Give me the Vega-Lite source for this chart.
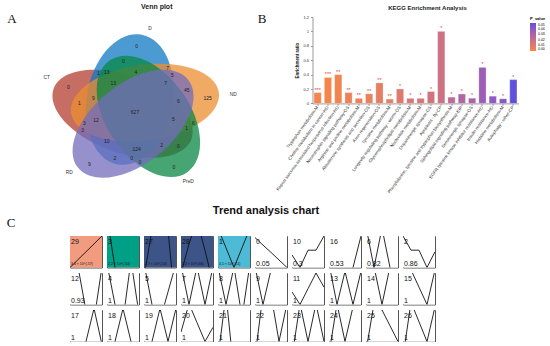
{
  "$schema": "https://vega.github.io/schema/vega-lite/v6.json",
  "background": "white",
  "padding": {"left": 0, "top": 2, "right": 0, "bottom": 0},
  "config": {
    "font": "Liberation Sans",
    "view": {"stroke": "#555", "strokeWidth": 1},
    "title": {"font": "Liberation Sans"},
    "header": {"labels": false, "title": null, "labelExpr": "''", "labelPadding": 0}
  },
  "datasets": {
    "ellipses": [
      {"set": "CT", "u": 0.428, "v": 0.449},
      {"set": "D", "u": 0.469, "v": 0.543},
      {"set": "ND", "u": 0.558, "v": 0.523},
      {"set": "PreD", "u": 0.578, "v": 0.432},
      {"set": "RD", "u": 0.489, "v": 0.383}
    ],
    "vnum": [
      {"n": "0", "u": 0.5099, "v": 0.898},
      {"n": "0", "u": 0.432, "v": 0.7987},
      {"n": "1", "u": 0.2866, "v": 0.7172},
      {"n": "13", "u": 0.3355, "v": 0.7258},
      {"n": "4", "u": 0.5058, "v": 0.7258},
      {"n": "7", "u": 0.6901, "v": 0.7503},
      {"n": "5", "u": 0.7169, "v": 0.706},
      {"n": "13", "u": 0.3738, "v": 0.655},
      {"n": "7", "u": 0.6785, "v": 0.655},
      {"n": "45", "u": 0.8006, "v": 0.6046},
      {"n": "125", "u": 0.9227, "v": 0.5556},
      {"n": "0", "u": 0.1122, "v": 0.6285},
      {"n": "1", "u": 0.1762, "v": 0.5225},
      {"n": "9", "u": 0.2576, "v": 0.5556},
      {"n": "6", "u": 0.7517, "v": 0.5338},
      {"n": "627", "u": 0.5, "v": 0.4609},
      {"n": "12", "u": 0.2733, "v": 0.4079},
      {"n": "5", "u": 0.7227, "v": 0.4126},
      {"n": "3", "u": 0.2052, "v": 0.3861},
      {"n": "3", "u": 0.1959, "v": 0.3397},
      {"n": "6", "u": 0.839, "v": 0.3901},
      {"n": "1", "u": 0.8006, "v": 0.353},
      {"n": "10", "u": 0.3355, "v": 0.2689},
      {"n": "124", "u": 0.5099, "v": 0.2179},
      {"n": "2", "u": 0.6552, "v": 0.2424},
      {"n": "0", "u": 0.7517, "v": 0.2358},
      {"n": "2", "u": 0.3837, "v": 0.1583},
      {"n": "0", "u": 0.4808, "v": 0.1583},
      {"n": "0", "u": 0.5291, "v": 0.1318},
      {"n": "9", "u": 0.2343, "v": 0.1185},
      {"n": "0", "u": 0.7267, "v": 0.0987}
    ],
    "vname": [
      {"label": "CT", "u": -0.0134, "v": 0.6881},
      {"label": "D", "u": 0.5872, "v": 1.0086},
      {"label": "ND", "u": 1.0715, "v": 0.5715},
      {"label": "RD", "u": 0.118, "v": 0.0589},
      {"label": "PreD", "u": 0.8099, "v": -0.0026}
    ],
    "kegg": [
      {"pathway": "Tryptophan metabolism-M", "ratio": 0.15, "p": 0.0004, "sig": "***"},
      {"pathway": "Choline metabolism in cancer-HD", "ratio": 0.36, "p": 0.0005, "sig": "***"},
      {"pathway": "Kaposi sarcoma-associated herpesvirus infection-HD", "ratio": 0.4, "p": 0.002, "sig": "**"},
      {"pathway": "Neurotrophin signaling pathway-OS", "ratio": 0.15, "p": 0.004, "sig": "**"},
      {"pathway": "Arginine and proline metabolism-M", "ratio": 0.07, "p": 0.005, "sig": "**"},
      {"pathway": "Aldosterone synthesis and secretion-OS", "ratio": 0.133, "p": 0.005, "sig": "**"},
      {"pathway": "Axon regeneration-OS", "ratio": 0.285, "p": 0.007, "sig": "**"},
      {"pathway": "Tyrosine metabolism-M", "ratio": 0.06, "p": 0.007, "sig": "**"},
      {"pathway": "Longevity regulating pathway - worm-OS", "ratio": 0.2, "p": 0.011, "sig": "*"},
      {"pathway": "Glycerophospholipid metabolism-M", "ratio": 0.07, "p": 0.013, "sig": "*"},
      {"pathway": "Nucleotide metabolism-M", "ratio": 0.07, "p": 0.014, "sig": "*"},
      {"pathway": "Dopaminergic synapse-OS", "ratio": 0.165, "p": 0.016, "sig": "*"},
      {"pathway": "Apoptosis - fly-CP", "ratio": 1.0, "p": 0.018, "sig": "*"},
      {"pathway": "Phenylalanine, tyrosine and tryptophan biosynthesis-M", "ratio": 0.087, "p": 0.024, "sig": "*"},
      {"pathway": "Sphingolipid signaling pathway-EIP", "ratio": 0.13, "p": 0.028, "sig": "*"},
      {"pathway": "Serotonergic synapse-OS", "ratio": 0.072, "p": 0.031, "sig": "*"},
      {"pathway": "EGFR tyrosine kinase inhibitor resistance-HD", "ratio": 0.5, "p": 0.035, "sig": "*"},
      {"pathway": "Insulin resistance-HD", "ratio": 0.1, "p": 0.039, "sig": "*"},
      {"pathway": "Histidine metabolism-M", "ratio": 0.064, "p": 0.041, "sig": "*"},
      {"pathway": "Autophagy - other-CP", "ratio": 0.33, "p": 0.049, "sig": "*"}
    ],
    "profiles": [
      {"p": "29", "r": 0, "k": 0, "c": "A", "pv": "3.4 × 10^(-57)"},
      {"p": "3", "r": 0, "k": 1, "c": "B", "pv": "2.2 × 10^(-50)"},
      {"p": "27", "r": 0, "k": 2, "c": "C", "pv": "2.7 × 10^(-10)"},
      {"p": "28", "r": 0, "k": 3, "c": "C", "pv": "2.2 × 10^(-66)"},
      {"p": "1", "r": 0, "k": 4, "c": "D", "pv": "4.1 × 10^(-11)"},
      {"p": "0", "r": 0, "k": 5, "c": "none", "pv": "0.05"},
      {"p": "10", "r": 0, "k": 6, "c": "none", "pv": "0.3"},
      {"p": "16", "r": 0, "k": 7, "c": "none", "pv": "0.53"},
      {"p": "6", "r": 0, "k": 8, "c": "none", "pv": "0.82"},
      {"p": "2", "r": 0, "k": 9, "c": "none", "pv": "0.86"},
      {"p": "12", "r": 1, "k": 0, "c": "none", "pv": "0.93"},
      {"p": "4", "r": 1, "k": 1, "c": "none", "pv": "1"},
      {"p": "5", "r": 1, "k": 2, "c": "none", "pv": "1"},
      {"p": "7", "r": 1, "k": 3, "c": "none", "pv": "1"},
      {"p": "8", "r": 1, "k": 4, "c": "none", "pv": "1"},
      {"p": "9", "r": 1, "k": 5, "c": "none", "pv": "1"},
      {"p": "11", "r": 1, "k": 6, "c": "none", "pv": "1"},
      {"p": "13", "r": 1, "k": 7, "c": "none", "pv": "1"},
      {"p": "14", "r": 1, "k": 8, "c": "none", "pv": "1"},
      {"p": "15", "r": 1, "k": 9, "c": "none", "pv": "1"},
      {"p": "17", "r": 2, "k": 0, "c": "none", "pv": "1"},
      {"p": "18", "r": 2, "k": 1, "c": "none", "pv": "1"},
      {"p": "19", "r": 2, "k": 2, "c": "none", "pv": "1"},
      {"p": "20", "r": 2, "k": 3, "c": "none", "pv": "1"},
      {"p": "21", "r": 2, "k": 4, "c": "none", "pv": "1"},
      {"p": "22", "r": 2, "k": 5, "c": "none", "pv": "1"},
      {"p": "23", "r": 2, "k": 6, "c": "none", "pv": "1"},
      {"p": "24", "r": 2, "k": 7, "c": "none", "pv": "1"},
      {"p": "25", "r": 2, "k": 8, "c": "none", "pv": "1"},
      {"p": "26", "r": 2, "k": 9, "c": "none", "pv": "1"}
    ],
    "trend": [
      {"p": "29", "t": 0, "v": 0}, {"p": "29", "t": 1, "v": 0.25}, {"p": "29", "t": 2, "v": 0.5}, {"p": "29", "t": 3, "v": 0.75}, {"p": "29", "t": 4, "v": 1},
      {"p": "3", "t": 0, "v": 1.6}, {"p": "3", "t": 1, "v": 0}, {"p": "3", "t": 2, "v": -1.5}, {"p": "3", "t": 3, "v": -3}, {"p": "3", "t": 4, "v": -4.5},
      {"p": "27", "t": 0, "v": -0.3}, {"p": "27", "t": 1, "v": 1.2}, {"p": "27", "t": 2, "v": 2}, {"p": "27", "t": 3, "v": 1.2}, {"p": "27", "t": 4, "v": -1.5},
      {"p": "28", "t": 0, "v": -0.2}, {"p": "28", "t": 1, "v": 0.75}, {"p": "28", "t": 2, "v": 1.5}, {"p": "28", "t": 3, "v": 0.54}, {"p": "28", "t": 4, "v": -0.5},
      {"p": "1", "t": 0, "v": 1.25}, {"p": "1", "t": 1, "v": 0.625}, {"p": "1", "t": 2, "v": 0}, {"p": "1", "t": 3, "v": 0.625}, {"p": "1", "t": 4, "v": 1.25},
      {"p": "0", "t": 0, "v": 0.95}, {"p": "0", "t": 1, "v": 0.71}, {"p": "0", "t": 2, "v": 0.48}, {"p": "0", "t": 3, "v": 0.24}, {"p": "0", "t": 4, "v": 0},
      {"p": "10", "t": 0, "v": 0.4}, {"p": "10", "t": 1, "v": 0}, {"p": "10", "t": 2, "v": 0.55}, {"p": "10", "t": 3, "v": 0.55}, {"p": "10", "t": 4, "v": 1},
      {"p": "16", "t": 0, "v": -3}, {"p": "16", "t": 1, "v": -2}, {"p": "16", "t": 2, "v": -1}, {"p": "16", "t": 3, "v": 0}, {"p": "16", "t": 4, "v": 1},
      {"p": "6", "t": 0, "v": 1.3}, {"p": "6", "t": 1, "v": 0}, {"p": "6", "t": 2, "v": 1.25}, {"p": "6", "t": 3, "v": 0}, {"p": "6", "t": 4, "v": -0.5},
      {"p": "2", "t": 0, "v": 1}, {"p": "2", "t": 1, "v": 0.55}, {"p": "2", "t": 2, "v": 0.55}, {"p": "2", "t": 3, "v": 0}, {"p": "2", "t": 4, "v": 0.5},
      {"p": "12", "t": 0, "v": 2}, {"p": "12", "t": 1, "v": 1.2}, {"p": "12", "t": 2, "v": -0.2}, {"p": "12", "t": 3, "v": -0.5}, {"p": "12", "t": 4, "v": 1.2},
      {"p": "4", "t": 0, "v": 1.3}, {"p": "4", "t": 1, "v": 0}, {"p": "4", "t": 2, "v": -0.5}, {"p": "4", "t": 3, "v": 1.4}, {"p": "4", "t": 4, "v": -0.3},
      {"p": "5", "t": 0, "v": 1.3}, {"p": "5", "t": 1, "v": 0}, {"p": "5", "t": 2, "v": -0.5}, {"p": "5", "t": 3, "v": 0.4}, {"p": "5", "t": 4, "v": 1.3},
      {"p": "7", "t": 0, "v": 1.25}, {"p": "7", "t": 1, "v": 0}, {"p": "7", "t": 2, "v": 1.2}, {"p": "7", "t": 3, "v": 0}, {"p": "7", "t": 4, "v": 1.2},
      {"p": "8", "t": 0, "v": 1.2}, {"p": "8", "t": 1, "v": 0}, {"p": "8", "t": 2, "v": 1.2}, {"p": "8", "t": 3, "v": -0.4}, {"p": "8", "t": 4, "v": 1.3},
      {"p": "9", "t": 0, "v": 1.2}, {"p": "9", "t": 1, "v": 0}, {"p": "9", "t": 2, "v": 1.1}, {"p": "9", "t": 3, "v": 1.5}, {"p": "9", "t": 4, "v": 1.5},
      {"p": "11", "t": 0, "v": 0.4}, {"p": "11", "t": 1, "v": 0}, {"p": "11", "t": 2, "v": 0.5}, {"p": "11", "t": 3, "v": 1}, {"p": "11", "t": 4, "v": 0.55},
      {"p": "13", "t": 0, "v": 1.3}, {"p": "13", "t": 1, "v": 0}, {"p": "13", "t": 2, "v": 1.05}, {"p": "13", "t": 3, "v": 0}, {"p": "13", "t": 4, "v": 1.05},
      {"p": "14", "t": 0, "v": 1.5}, {"p": "14", "t": 1, "v": 1.2}, {"p": "14", "t": 2, "v": 0}, {"p": "14", "t": 3, "v": 1.2}, {"p": "14", "t": 4, "v": 1.5},
      {"p": "15", "t": 0, "v": 1.5}, {"p": "15", "t": 1, "v": 1.1}, {"p": "15", "t": 2, "v": 0.55}, {"p": "15", "t": 3, "v": 0}, {"p": "15", "t": 4, "v": 1.1},
      {"p": "17", "t": 0, "v": -0.5}, {"p": "17", "t": 1, "v": -0.5}, {"p": "17", "t": 2, "v": 0}, {"p": "17", "t": 3, "v": 1.05}, {"p": "17", "t": 4, "v": -0.1},
      {"p": "18", "t": 0, "v": -0.5}, {"p": "18", "t": 1, "v": 0}, {"p": "18", "t": 2, "v": 1.05}, {"p": "18", "t": 3, "v": 0}, {"p": "18", "t": 4, "v": -0.5},
      {"p": "19", "t": 0, "v": -0.5}, {"p": "19", "t": 1, "v": 0}, {"p": "19", "t": 2, "v": 1.05}, {"p": "19", "t": 3, "v": 0}, {"p": "19", "t": 4, "v": 1.05},
      {"p": "20", "t": 0, "v": 0.3}, {"p": "20", "t": 1, "v": 1.2}, {"p": "20", "t": 2, "v": 0.6}, {"p": "20", "t": 3, "v": 0}, {"p": "20", "t": 4, "v": 0.45},
      {"p": "21", "t": 0, "v": -0.5}, {"p": "21", "t": 1, "v": 1.5}, {"p": "21", "t": 2, "v": -1}, {"p": "21", "t": 3, "v": -1}, {"p": "21", "t": 4, "v": -1},
      {"p": "22", "t": 0, "v": -0.5}, {"p": "22", "t": 1, "v": 1.5}, {"p": "22", "t": 2, "v": 1.5}, {"p": "22", "t": 3, "v": 0}, {"p": "22", "t": 4, "v": 1.2},
      {"p": "23", "t": 0, "v": -0.5}, {"p": "23", "t": 1, "v": 1.2}, {"p": "23", "t": 2, "v": 0}, {"p": "23", "t": 3, "v": 1.2}, {"p": "23", "t": 4, "v": 0},
      {"p": "24", "t": 0, "v": -0.4}, {"p": "24", "t": 1, "v": 1.2}, {"p": "24", "t": 2, "v": 0}, {"p": "24", "t": 3, "v": 1.1}, {"p": "24", "t": 4, "v": 1.5},
      {"p": "25", "t": 0, "v": -0.3}, {"p": "25", "t": 1, "v": 1.2}, {"p": "25", "t": 2, "v": 1}, {"p": "25", "t": 3, "v": 0.5}, {"p": "25", "t": 4, "v": 0},
      {"p": "26", "t": 0, "v": -0.5}, {"p": "26", "t": 1, "v": 1.25}, {"p": "26", "t": 2, "v": 0.625}, {"p": "26", "t": 3, "v": 0}, {"p": "26", "t": 4, "v": 1.1}
    ]
  },
  "bounds": "flush",
  "spacing": 219,
  "vconcat": [
    {
      "bounds": "flush",
      "spacing": 62.5,
      "hconcat": [
        {
          "width": 250,
          "height": 167,
          "view": {"stroke": null},
          "encoding": {
            "x": {"field": "u", "type": "quantitative", "scale": {"domain": [-0.28488, 1.1686], "nice": false, "zero": false}, "axis": null},
            "y": {"field": "v", "type": "quantitative", "scale": {"domain": [-0.01589, 1.09007], "nice": false, "zero": false}, "axis": null}
          },
          "layer": [
            {"data": {"name": "ellipses"}, "transform": [{"filter": "datum.set === 'CT'"}],
             "mark": {"type": "point", "shape": "M-1,0C-1,-0.2894,-0.5523,-0.524,0,-0.524C0.5523,-0.524,1,-0.2894,1,0C1,0.2894,0.5523,0.524,0,0.524C-0.5523,0.524,-1,0.2894,-1,0Z", "size": 21556, "angle": 20.1, "filled": true, "color": "#B33E30", "opacity": 0.75}},
            {"data": {"name": "ellipses"}, "transform": [{"filter": "datum.set === 'D'"}],
             "mark": {"type": "point", "shape": "M-1,0C-1,-0.359,-0.5523,-0.65,0,-0.65C0.5523,-0.65,1,-0.359,1,0C1,0.359,0.5523,0.65,0,0.65C-0.5523,0.65,-1,0.359,-1,0Z", "size": 17371, "angle": 280.6, "filled": true, "color": "#0F7AC3", "opacity": 0.75}},
            {"data": {"name": "ellipses"}, "transform": [{"filter": "datum.set === 'ND'"}],
             "mark": {"type": "point", "shape": "M-1,0C-1,-0.2806,-0.5523,-0.508,0,-0.508C0.5523,-0.508,1,-0.2806,1,0C1,0.2806,0.5523,0.508,0,0.508C-0.5523,0.508,-1,0.2806,-1,0Z", "size": 22255, "angle": 352.1, "filled": true, "color": "#EB8E30", "opacity": 0.75}},
            {"data": {"name": "ellipses"}, "transform": [{"filter": "datum.set === 'PreD'"}],
             "mark": {"type": "point", "shape": "M-1,0C-1,-0.3369,-0.5523,-0.61,0,-0.61C0.5523,-0.61,1,-0.3369,1,0C1,0.3369,0.5523,0.61,0,0.61C-0.5523,0.61,-1,0.3369,-1,0Z", "size": 18518, "angle": 55.1, "filled": true, "color": "#088744", "opacity": 0.75}},
            {"data": {"name": "ellipses"}, "transform": [{"filter": "datum.set === 'RD'"}],
             "mark": {"type": "point", "shape": "M-1,0C-1,-0.3137,-0.5523,-0.568,0,-0.568C0.5523,-0.568,1,-0.3137,1,0C1,0.3137,0.5523,0.568,0,0.568C-0.5523,0.568,-1,0.3137,-1,0Z", "size": 19898, "angle": 321.3, "filled": true, "color": "#736CBC", "opacity": 0.75}},
            {"data": {"name": "vnum"},
             "mark": {"type": "text", "fontSize": 5, "color": "#222"},
             "encoding": {"text": {"field": "n"}}},
            {"data": {"name": "vname"},
             "mark": {"type": "text", "fontSize": 4.8, "color": "#333"},
             "encoding": {"text": {"field": "label"}}},
            {"data": {"values": [{"label": "Venn plot", "u": 0.6262, "v": 1.1583}]},
             "mark": {"type": "text", "fontSize": 7, "fontWeight": "bold", "color": "#222"},
             "encoding": {"text": {"field": "label"}}},
            {"data": {"values": [{"label": "A", "u": -0.2151, "v": 1.0768}, {"label": "B", "u": 1.2384, "v": 1.0768}]},
             "mark": {"type": "text", "fontSize": 13, "font": "Liberation Serif", "color": "#111"},
             "encoding": {"text": {"field": "label"}}}
          ]
        },
        {
          "width": 206,
          "height": 86.4,
          "view": {"stroke": null},
          "title": {"text": "KEGG Enrichment Analysis", "fontSize": 6, "fontWeight": "bold", "color": "#222", "anchor": "middle", "dx": 12, "offset": 4},
          "data": {"name": "kegg"},
          "encoding": {
            "x": {"field": "pathway", "type": "nominal", "sort": null,
                  "scale": {"paddingInner": 0.3, "paddingOuter": 0.15},
                  "axis": {"title": null, "labelAngle": -54, "labelFontSize": 4.4, "labelColor": "#333", "tickSize": 2, "domainColor": "#999", "tickColor": "#999", "labelPadding": 1, "labelLimit": 300}},
            "y": {"field": "ratio", "type": "quantitative", "scale": {"domain": [0, 1.2], "nice": false},
                  "axis": {"title": "Enrichment ratio", "titleFontSize": 4.5, "titleFontWeight": "bold", "titleColor": "#222", "labelFontSize": 4, "labelColor": "#333", "values": [0, 0.2, 0.4, 0.6, 0.8, 1, 1.2], "format": ".1~f", "grid": false, "tickSize": 2, "domainColor": "#999", "tickColor": "#999", "titlePadding": 3}}
          },
          "layer": [
            {"mark": {"type": "bar", "stroke": "#ffffff", "strokeOpacity": 0.5, "strokeWidth": 0.5},
             "encoding": {"color": {"field": "p", "type": "quantitative",
               "scale": {"domain": [0, 0.05], "range": ["#F5874A", "#5A50E0"], "interpolate": "lab"},
               "legend": {"title": "P_value", "titleFontSize": 4, "labelFontSize": 3.5, "gradientLength": 28, "gradientThickness": 6, "offset": 11, "values": [0, 0.01, 0.02, 0.03, 0.04, 0.05], "titlePadding": 2, "labelOffset": 2}}}},
            {"mark": {"type": "text", "color": "#E8413C", "fontSize": 5.5, "dy": -3},
             "encoding": {"text": {"field": "sig"}}}
          ]
        }
      ]
    },
    {
      "bounds": "flush",
      "spacing": 5,
      "hconcat": [
        {
          "width": 65,
          "height": 104.5,
          "view": {"stroke": null},
          "data": {"values": [{"label": "C", "x": 0.169, "y": 1.124}]},
          "mark": {"type": "text", "fontSize": 13, "font": "Liberation Serif", "color": "#111"},
          "encoding": {
            "x": {"field": "x", "type": "quantitative", "scale": {"domain": [0, 1], "nice": false, "zero": false}, "axis": null},
            "y": {"field": "y", "type": "quantitative", "scale": {"domain": [0, 1], "nice": false, "zero": false}, "axis": null},
            "text": {"field": "label"}
          }
        },
        {
          "data": {"name": "trend"},
          "transform": [{"lookup": "p", "from": {"data": {"name": "profiles"}, "key": "p", "fields": ["r", "k", "c", "pv"]}}],
          "title": {"text": "Trend analysis chart", "fontSize": 11, "fontWeight": "bold", "color": "#111", "anchor": "middle", "dx": 13.5, "offset": 20},
          "facet": {
            "row": {"field": "r", "type": "ordinal", "header": {"labels": false, "title": null, "labelExpr": "''", "labelPadding": 0}},
            "column": {"field": "k", "type": "ordinal", "header": {"labels": false, "title": null, "labelExpr": "''", "labelPadding": 0}}
          },
          "spacing": {"row": 5, "column": 5},
          "bounds": "flush",
          "spec": {
            "width": 32,
            "height": 31.5,
            "layer": [
              {"transform": [{"filter": "datum.t === 0"}],
               "mark": {"type": "rect"},
               "encoding": {
                 "x": {"datum": 0, "type": "quantitative", "scale": {"domain": [0, 4], "nice": false, "zero": false}, "axis": null},
                 "x2": {"datum": 4},
                 "y": {"datum": 0, "type": "quantitative", "scale": {"domain": [0, 1], "nice": false, "zero": false}, "axis": null},
                 "y2": {"datum": 1},
                 "fill": {"field": "c", "type": "nominal", "scale": {"domain": ["A", "B", "C", "D", "none"], "range": ["#F39B7F", "#00A087", "#3C5488", "#4DBBD5", "#ffffff"]}, "legend": null}
               }},
              {"mark": {"type": "line", "clip": true, "color": "#111", "strokeWidth": 0.9},
               "encoding": {
                 "x": {"field": "t", "type": "quantitative", "scale": {"domain": [0, 4], "nice": false, "zero": false}, "axis": null},
                 "y": {"field": "v", "type": "quantitative", "scale": {"domain": [0, 1], "nice": false, "zero": false}, "axis": null}
               }},
              {"transform": [{"filter": "datum.t === 0"}],
               "mark": {"type": "text", "align": "left", "baseline": "top", "dx": 1, "dy": 2, "fontSize": 7, "fill": "#111111", "color": "#111111"},
               "encoding": {
                 "x": {"datum": 0, "type": "quantitative", "scale": {"domain": [0, 4], "nice": false, "zero": false}, "axis": null},
                 "y": {"datum": 1, "type": "quantitative", "scale": {"domain": [0, 1], "nice": false, "zero": false}, "axis": null},
                 "text": {"field": "p"}
               }},
              {"transform": [{"filter": "datum.t === 0 && datum.c === 'none'"}],
               "mark": {"type": "text", "align": "left", "baseline": "bottom", "dx": 1, "dy": -1, "fontSize": 7, "fill": "#111111", "color": "#111111"},
               "encoding": {
                 "x": {"datum": 0, "type": "quantitative", "scale": {"domain": [0, 4], "nice": false, "zero": false}, "axis": null},
                 "y": {"datum": 0, "type": "quantitative", "scale": {"domain": [0, 1], "nice": false, "zero": false}, "axis": null},
                 "text": {"field": "pv"}
               }},
              {"transform": [{"filter": "datum.t === 0 && datum.c !== 'none'"}],
               "mark": {"type": "text", "align": "left", "baseline": "bottom", "dx": 1, "dy": -2, "fontSize": 3.5, "fill": "#111111", "color": "#111111"},
               "encoding": {
                 "x": {"datum": 0, "type": "quantitative", "scale": {"domain": [0, 4], "nice": false, "zero": false}, "axis": null},
                 "y": {"datum": 0, "type": "quantitative", "scale": {"domain": [0, 1], "nice": false, "zero": false}, "axis": null},
                 "text": {"field": "pv"}
               }}
            ]
          }
        }
      ]
    }
  ]
}
